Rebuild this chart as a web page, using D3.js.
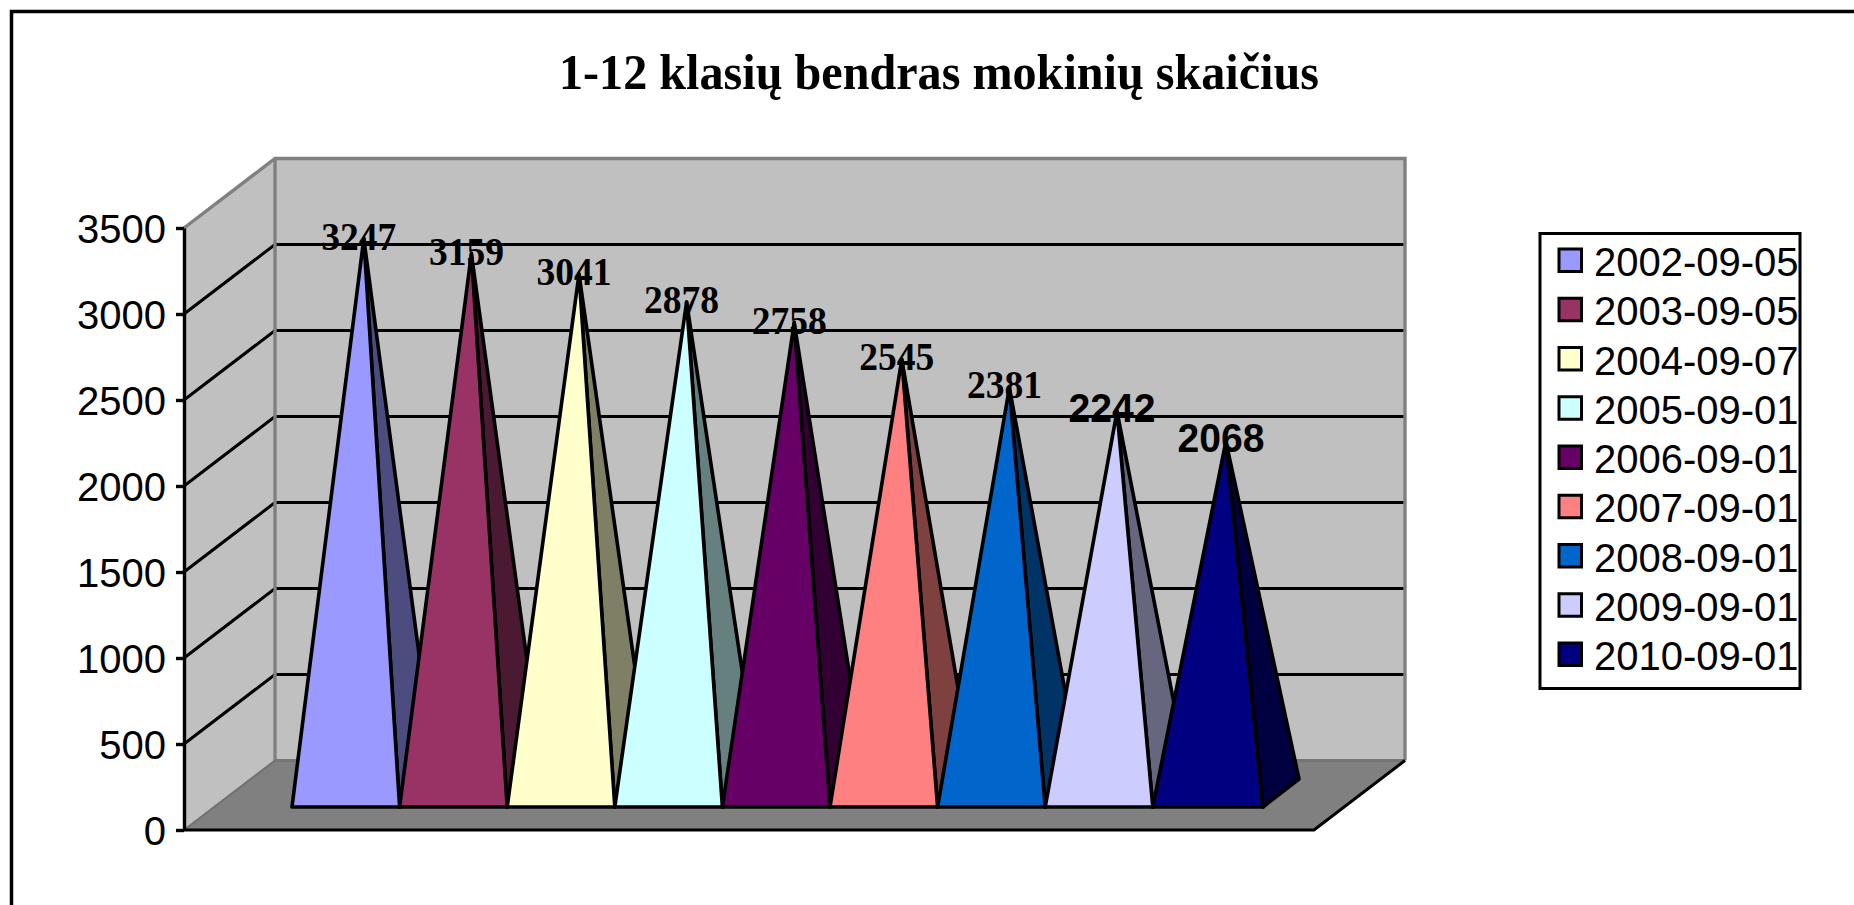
<!DOCTYPE html>
<html>
<head>
<meta charset="utf-8">
<title>1-12 klasių bendras mokinių skaičius</title>
<script src="https://cdn.jsdelivr.net/npm/d3@7"></script>
<style>
  html, body { margin: 0; padding: 0; background: #fff; overflow: hidden; }
  svg { display: block; }
  .sans { font-family: "Liberation Sans", Arial, sans-serif; }
  .serif { font-family: "Liberation Serif", "Times New Roman", serif; }
</style>
</head>
<body>
<svg id="chart" width="1854" height="905"></svg>
<script>
const title = '1-12 klasių bendras mokinių skaičius';
const dates = ['2002-09-05', '2003-09-05', '2004-09-07', '2005-09-01', '2006-09-01',
  '2007-09-01', '2008-09-01', '2009-09-01', '2010-09-01'];
const values = [3247, 3159, 3041, 2878, 2758, 2545, 2381, 2242, 2068];
const colors = ['#9999ff', '#993366', '#ffffcc', '#ccffff', '#660066',
  '#ff8080', '#0066cc', '#ccccff', '#000080'];
const sideColors = ['#4c4c7f', '#4c1933', '#7f7f66', '#667f7f', '#330033',
  '#7f4040', '#003366', '#66667f', '#000040'];
const yTicks = [0, 500, 1000, 1500, 2000, 2500, 3000, 3500];
// the last two data labels are set in a sans font in the original
const sansLabels = ['2242', '2068'];

const svg = d3.select('#chart');

// 3d box of the plot
const front = { left: 184, right: 1314 };
const depth = { x: 91, y: -69.5 };
const y = d3.scaleLinear().domain([0, 3500]).range([830, 228]);
const x = d3.scaleBand().domain(dates).range([292, 1260.4]);

// pyramid base sits inside the floor
const base = { dx: 36, dy: -28, front: -23 };
const apexShift = -10;
// the last pyramid is a little wider in the original
const lastExtra = 2.6;

const poly = (pts) => d3.line()(pts) + 'Z';

// chart frame, only top and left are inside the picture
svg.append('path')
  .attr('d', 'M11.5,905V11.5H1854')
  .attr('fill', 'none')
  .attr('stroke', '#000')
  .attr('stroke-width', 3.5);

svg.append('text')
  .attr('class', 'serif')
  .attr('x', 559)
  .attr('y', 89)
  .attr('textLength', 760)
  .attr('lengthAdjust', 'spacingAndGlyphs')
  .attr('font-size', 50)
  .attr('font-weight', 'bold')
  .text(title);

// walls
const wallTop = y(3500);
const wallBottom = y(0);
const backLeft = front.left + depth.x;
const backRight = front.right + depth.x;

svg.append('path')
  .attr('d', poly([[backLeft, wallTop + depth.y], [backRight, wallTop + depth.y],
    [backRight, wallBottom + depth.y], [backLeft, wallBottom + depth.y]]))
  .attr('fill', '#c0c0c0');
svg.append('path')
  .attr('d', poly([[front.left, wallTop], [backLeft, wallTop + depth.y],
    [backLeft, wallBottom + depth.y], [front.left, wallBottom]]))
  .attr('fill', '#c0c0c0');
svg.append('path')
  .attr('d', poly([[front.left, wallBottom], [backLeft, wallBottom + depth.y],
    [backRight, wallBottom + depth.y], [front.right, wallBottom]]))
  .attr('fill', '#808080');

// gridlines, across the side wall and the back wall
const grid = yTicks.filter((t) => t > 0 && t < 3500);
svg.append('g').selectAll('path')
  .data(grid)
  .enter()
  .append('path')
  .attr('d', (t) => d3.line()([[front.left, y(t)], [backLeft, y(t) + depth.y], [backRight, y(t) + depth.y]]))
  .attr('fill', 'none')
  .attr('stroke', '#000')
  .attr('stroke-width', 3);

// wall edges
svg.append('path')
  .attr('d', d3.line()([[front.left, wallTop], [backLeft, wallTop + depth.y],
    [backRight, wallTop + depth.y], [backRight, wallBottom + depth.y]]))
  .attr('fill', 'none')
  .attr('stroke', '#808080')
  .attr('stroke-width', 3.4);
svg.append('path')
  .attr('d', d3.line()([[backLeft, wallTop + depth.y], [backLeft, wallBottom + depth.y]]))
  .attr('stroke', '#808080')
  .attr('stroke-width', 3.4);
svg.append('path')
  .attr('d', d3.line()([[backLeft, wallBottom + depth.y], [backRight, wallBottom + depth.y]]))
  .attr('stroke', '#757575')
  .attr('stroke-width', 3);
svg.append('path')
  .attr('d', d3.line()([[front.left, wallBottom], [backLeft, wallBottom + depth.y]]))
  .attr('stroke', '#707070')
  .attr('stroke-width', 2);

// floor front and right edges
svg.append('path')
  .attr('d', d3.line()([[front.left, wallBottom], [front.right, wallBottom], [backRight, wallBottom + depth.y]]))
  .attr('fill', 'none')
  .attr('stroke', '#000')
  .attr('stroke-width', 3);

// value axis
const axis = svg.append('g')
  .attr('class', 'sans')
  .attr('transform', 'translate(' + front.left + ',0)')
  .call(d3.axisLeft(y).tickValues(yTicks).tickFormat(d3.format('d'))
    .tickSizeInner(8).tickSizeOuter(0).tickPadding(10));
axis.selectAll('path, line').attr('stroke', '#000').attr('stroke-width', 3.4);
axis.selectAll('text')
  .attr('font-size', 40)
  .attr('font-family', '"Liberation Sans", Arial, sans-serif')
  .attr('fill', '#000')
  .attr('y', 1.5);

// pyramids, left to right so that each one covers the side of the previous one
const pyramids = svg.append('g').selectAll('g')
  .data(values)
  .enter()
  .append('g')
  .attr('stroke', '#000')
  .attr('stroke-width', 3.6)
  .attr('stroke-linejoin', 'round');

const corners = (d, i) => {
  const left = x(dates[i]);
  const right = left + x.bandwidth() + (i === values.length - 1 ? lastExtra : 0);
  const baseY = y(0) + base.front;
  return {
    fl: [left, baseY],
    fr: [right, baseY],
    br: [right + base.dx, baseY + base.dy],
    apex: [(left + right) / 2 + base.dx / 2, y(d) + base.front + apexShift]
  };
};

pyramids.append('path')
  .attr('d', (d, i) => {
    const c = corners(d, i);
    return poly([c.fr, c.br, c.apex]);
  })
  .attr('fill', (d, i) => sideColors[i]);
pyramids.append('path')
  .attr('d', (d, i) => {
    const c = corners(d, i);
    return poly([c.fl, c.fr, c.apex]);
  })
  .attr('fill', (d, i) => colors[i]);

// data labels
const isSans = (d) => sansLabels.indexOf(String(d)) >= 0;
svg.append('g').selectAll('text')
  .data(values)
  .enter()
  .append('text')
  .attr('class', (d) => isSans(d) ? 'sans' : 'serif')
  .attr('x', (d, i) => corners(d, i).apex[0] - 5)
  .attr('y', (d) => y(d) + base.front + 1)
  .attr('text-anchor', 'middle')
  .attr('font-size', 40)
  .attr('textLength', (d) => isSans(d) ? 87 : 75)
  .attr('lengthAdjust', 'spacingAndGlyphs')
  .attr('font-weight', 'bold')
  .attr('fill', '#000')
  .text((d) => d);

// legend
const legendY = d3.scalePoint().domain(dates).range([276, 670]);
svg.append('rect')
  .attr('x', 1540)
  .attr('y', 233.5)
  .attr('width', 260)
  .attr('height', 455)
  .attr('fill', '#fff')
  .attr('stroke', '#000')
  .attr('stroke-width', 3);
const legend = svg.append('g').selectAll('g')
  .data(dates)
  .enter()
  .append('g');
legend.append('rect')
  .attr('x', 1559)
  .attr('y', (d) => legendY(d) - 27)
  .attr('width', 22.5)
  .attr('height', 22.5)
  .attr('fill', (d, i) => colors[i])
  .attr('stroke', '#000')
  .attr('stroke-width', 3);
legend.append('text')
  .attr('class', 'sans')
  .attr('x', 1594)
  .attr('y', (d) => legendY(d))
  .attr('font-size', 40)
  .attr('fill', '#000')
  .text((d) => d);
</script>
</body>
</html>
